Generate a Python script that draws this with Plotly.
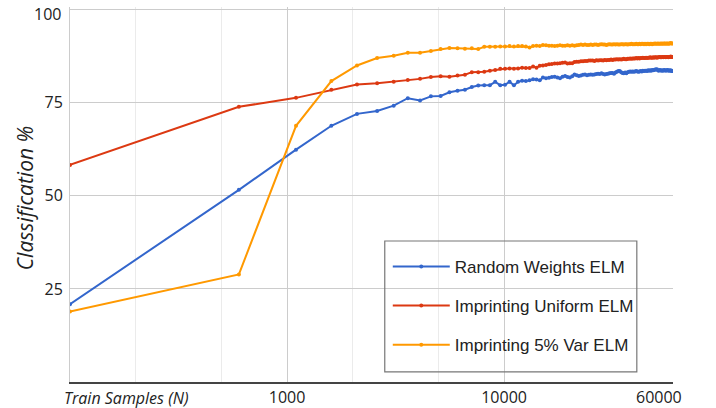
import plotly.graph_objects as go

# Training set sizes (N): 100, 600, 1100, ... 59600
train_samples = list(range(100, 60000, 500))

random_weights = [
    20.9, 51.6, 62.4, 68.8, 72.0, 72.8, 74.2, 76.2, 75.6, 76.7,
    76.8, 77.8, 78.2, 78.5, 79.2, 79.6, 79.7, 79.7, 80.6, 79.7,
    79.8, 80.6, 79.7, 80.6, 80.9, 80.8, 81.0, 81.3, 81.2, 81.0,
    81.8, 81.6, 81.7, 81.9, 82.0, 81.8, 81.6, 82.0, 82.2, 81.9,
    81.8, 82.1, 82.6, 82.4, 82.2, 82.3, 82.5, 82.6, 82.4, 82.5,
    82.6, 82.5, 82.6, 82.7, 82.8, 82.7, 82.9, 82.7, 82.6, 82.7,
    82.8, 82.9, 83.0, 83.0, 82.8, 83.1, 83.3, 83.5, 83.5, 83.2,
    83.0, 82.9, 83.1, 82.9, 83.2, 83.3, 83.4, 83.3, 83.4, 83.3,
    83.4, 83.5, 83.4, 83.3, 83.4, 83.5, 83.4, 83.6, 83.5, 83.6,
    83.6, 83.5, 83.7, 83.6, 83.7, 83.6, 83.8, 83.7, 83.8, 83.9,
    83.9, 84.0, 83.7, 83.6, 83.8, 83.7, 83.6, 83.7, 83.6, 83.8,
    83.7, 83.6, 83.7, 83.8, 83.6, 83.7, 83.6, 83.7, 83.5, 83.5,
]

imprinting_uniform = [
    58.3, 73.9, 76.3, 78.5, 79.9, 80.2, 80.6, 81.1, 81.4, 81.9,
    82.1, 82.0, 82.3, 82.5, 83.2, 83.2, 83.3, 83.6, 83.8, 84.1,
    84.1, 84.2, 84.1, 84.2, 84.4, 84.3, 84.3, 84.7, 84.4, 84.9,
    85.0, 85.1, 85.3, 85.4, 85.5, 85.5, 85.6, 85.7, 85.8, 85.5,
    85.6, 85.6, 85.9, 86.0, 86.0, 86.1, 86.1, 86.2, 86.2, 86.3,
    86.3, 86.3, 86.2, 86.4, 86.3, 86.4, 86.4, 86.3, 86.5, 86.4,
    86.5, 86.5, 86.6, 86.5, 86.6, 86.6, 86.7, 86.6, 86.7, 86.6,
    86.7, 86.8, 86.7, 86.7, 86.8, 86.8, 86.9, 86.8, 86.9, 86.9,
    86.9, 87.0, 86.9, 87.0, 86.9, 87.0, 87.0, 87.1, 87.0, 87.0,
    87.1, 87.0, 87.1, 87.1, 87.2, 87.1, 87.1, 87.2, 87.1, 87.2,
    87.2, 87.1, 87.2, 87.2, 87.3, 87.2, 87.2, 87.3, 87.2, 87.3,
    87.3, 87.2, 87.3, 87.3, 87.2, 87.3, 87.3, 87.4, 87.3, 87.3,
]

imprinting_5var = [
    18.9, 28.9, 68.8, 80.8, 85.0, 87.0, 87.6, 88.4, 88.4, 88.9,
    89.4, 89.7, 89.6, 89.5, 89.6, 89.4, 90.0, 90.0, 90.0, 90.1,
    90.1, 90.2, 90.1, 90.2, 90.2, 90.1, 89.8, 90.2, 90.3, 90.2,
    90.5, 90.4, 90.3, 90.3, 90.2, 90.3, 90.4, 90.3, 90.3, 90.4,
    90.3, 90.4, 90.3, 90.4, 90.5, 90.6, 90.5, 90.6, 90.5, 90.5,
    90.6, 90.5, 90.6, 90.6, 90.5, 90.6, 90.7, 90.6, 90.6, 90.5,
    90.6, 90.7, 90.6, 90.6, 90.7, 90.6, 90.7, 90.6, 90.6, 90.7,
    90.7, 90.6, 90.7, 90.7, 90.6, 90.7, 90.7, 90.8, 90.7, 90.7,
    90.7, 90.8, 90.7, 90.7, 90.8, 90.7, 90.8, 90.8, 90.7, 90.8,
    90.7, 90.8, 90.8, 90.7, 90.8, 90.8, 90.7, 90.8, 90.8, 90.9,
    90.8, 90.8, 90.9, 90.8, 90.8, 90.9, 90.8, 90.9, 90.8, 90.9,
    90.9, 90.8, 90.9, 90.9, 90.8, 90.9, 90.9, 91.0, 90.9, 90.9,
]

series_names = ["Random Weights ELM", "Imprinting Uniform ELM", "Imprinting 5% Var ELM"]
series_values = [random_weights, imprinting_uniform, imprinting_5var]
series_colors = ["#3366cc", "#dc3912", "#ff9900"]

x_tick_vals = [1000, 10000]
x_tick_text = ["1000", "10000"]
x_minor_vals = [200, 500, 2000, 5000]
y_tick_vals = [25, 50, 75, 100]
y_tick_text = ["25", "50", "75", ""]   # "100" is placed as an annotation just below the top line

fig = go.Figure()
for i, (name, vals, col) in enumerate(zip(series_names, series_values, series_colors)):
    fig.add_trace(go.Scatter(
        x=train_samples, y=vals, name=name, mode="lines+markers",
        line=dict(color=col, width=2),
        marker=dict(color=col, size=4),
        legendgroup=f"g{i}",
    ))

fig.update_layout(
    width=716, height=408,
    margin=dict(l=70, r=43, t=7, b=26, autoexpand=False),
    paper_bgcolor="white", plot_bgcolor="white",
    font=dict(family="Open Sans", size=16, color="#222"),
    showlegend=True,
    legend=dict(
        x=0.527, y=0.355, xanchor="left", yanchor="top",
        bgcolor="rgba(0,0,0,0)", borderwidth=0,
        font=dict(family="Liberation Sans", size=17, color="#222"),
        tracegroupgap=14, itemwidth=57,
    ),
    xaxis=dict(
        type="log", range=[2, 4.7782], automargin=False,
        tickvals=x_tick_vals, ticktext=x_tick_text,
        showgrid=True, gridcolor="#cccccc", gridwidth=1,
        minor=dict(tickvals=x_minor_vals, showgrid=True, gridcolor="#ebebeb", gridwidth=1),
        showline=True, linecolor="#444", linewidth=1.5,
        ticks="", zeroline=False, ticklabelstandoff=0,
        tickfont=dict(family="Open Sans", size=16, color="#222"),
    ),
    yaxis=dict(
        range=[0, 100.7], tickvals=y_tick_vals, ticktext=y_tick_text, automargin=False,
        showgrid=True, gridcolor="#cccccc", gridwidth=1,
        showline=True, linecolor="#cccccc", linewidth=1,
        ticks="", zeroline=False, ticklabelstandoff=3,
        tickfont=dict(family="Open Sans", size=16, color="#222"),
    ),
    shapes=[dict(type="rect", xref="paper", yref="paper",
                 x0=0.522, x1=0.940, y0=0.027, y1=0.376,
                 line=dict(color="#777", width=1.2), fillcolor="rgba(0,0,0,0)", layer="above")],
    annotations=[
        dict(text="100", xref="paper", yref="y", x=0, y=100,
             xanchor="right", yanchor="middle", xshift=-7, yshift=-4, showarrow=False,
             font=dict(family="Open Sans", size=16, color="#222")),
        dict(text="<i>Classification %</i>", xref="paper", yref="paper", x=0, y=0.49,
             xanchor="center", yanchor="middle", xshift=-45, textangle=-90, showarrow=False,
             font=dict(family="Open Sans", size=21, color="#222")),
        dict(text="<i>Train Samples (N)</i>", xref="paper", yref="paper", x=0, y=0,
             xanchor="left", yanchor="top", xshift=-8, yshift=-3, showarrow=False,
             font=dict(family="Open Sans", size=16, color="#222")),
        dict(text="60000", xref="paper", yref="paper", x=1, y=0,
             xanchor="right", yanchor="top", xshift=11, yshift=-2, showarrow=False,
             font=dict(family="Open Sans", size=16, color="#222")),
    ],
)

fig.write_html("out.html")
